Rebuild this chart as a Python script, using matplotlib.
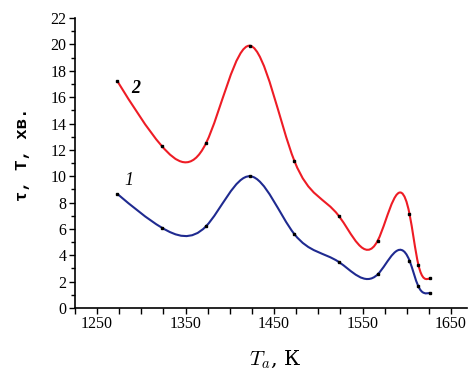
import matplotlib
matplotlib.use("Agg")
import matplotlib.pyplot as plt
import numpy as np
from matplotlib.path import Path
from matplotlib.patches import PathPatch
from matplotlib.ticker import MultipleLocator

ta = [1273, 1323, 1373, 1423, 1473, 1523, 1567, 1603, 1613, 1626]
tau_1 = [8.65, 6.1, 6.2, 10.0, 5.6, 3.5, 2.55, 3.6, 1.65, 1.15]
tau_2 = [17.2, 12.3, 12.5, 19.9, 11.15, 7.0, 5.1, 7.15, 3.3, 2.25]

plt.rcParams['mathtext.fontset'] = 'cm'


def spline_path(x, y):
    # natural cubic spline drawn as bezier segments
    x = np.asarray(x, float)
    y = np.asarray(y, float)
    n = len(x)
    h = np.diff(x)
    A = np.zeros((n, n))
    b = np.zeros(n)
    A[0, 0] = A[-1, -1] = 1
    for i in range(1, n - 1):
        A[i, i - 1] = h[i - 1]
        A[i, i] = 2 * (h[i - 1] + h[i])
        A[i, i + 1] = h[i]
        b[i] = 6 * ((y[i + 1] - y[i]) / h[i] - (y[i] - y[i - 1]) / h[i - 1])
    M = np.linalg.solve(A, b)
    verts = [(x[0], y[0])]
    codes = [Path.MOVETO]
    for i in range(n - 1):
        s = (y[i + 1] - y[i]) / h[i]
        d0 = s - h[i] * (2 * M[i] + M[i + 1]) / 6
        d1 = s + h[i] * (M[i] + 2 * M[i + 1]) / 6
        verts += [(x[i] + h[i] / 3, y[i] + d0 * h[i] / 3),
                  (x[i + 1] - h[i] / 3, y[i + 1] - d1 * h[i] / 3),
                  (x[i + 1], y[i + 1])]
        codes += [Path.CURVE4] * 3
    return Path(verts, codes)


fig = plt.figure(figsize=(4.7, 3.77), dpi=100)
ax = fig.add_axes([0.1596, 0.183, 0.834, 0.769])

for ys, col in [(tau_1, '#1f2a90'), (tau_2, '#ee1c25')]:
    ax.add_patch(PathPatch(spline_path(ta, ys), facecolor='none',
                           edgecolor=col, lw=1.5))
    ax.plot(ta, ys, 's', color='black', ms=1.8, zorder=3)

ax.text(1281, 9.3, '1', fontsize=13, style='italic', family='Liberation Serif')
ax.text(1288, 16.3, '2', fontsize=13, style='italic', weight='bold',
        family='Liberation Serif')

ax.set_xlim(1225, 1668)
ax.set_ylim(0, 22)
ax.xaxis.set_minor_locator(MultipleLocator(25))
ax.yaxis.set_major_locator(MultipleLocator(2))
ax.yaxis.set_minor_locator(MultipleLocator(1))
ax.set_xticks(np.arange(1250, 1651, 100))
ax.tick_params(which='major', length=4, width=1, direction='out')
ax.tick_params(which='minor', length=3, width=1, direction='out')
ax.tick_params(axis='x', which='minor', length=4)
for lab in ax.get_xticklabels() + ax.get_yticklabels():
    lab.set_family('Liberation Serif')
    lab.set_fontsize(11.5)
ax.tick_params(pad=2)

for side in ['top', 'right']:
    ax.spines[side].set_visible(False)
for side in ['left', 'bottom']:
    ax.spines[side].set_linewidth(1.2)

ax.set_xlabel(r'$T_a$, К', fontsize=15, family='DejaVu Serif')
ax.set_ylabel('τ, Т, хв.', fontsize=12.5, family='Liberation Mono',
              weight='bold')
ax.xaxis.set_label_coords(0.51, -0.14)
ax.yaxis.set_label_coords(-0.115, 0.53)

fig.savefig('out.png', dpi=100)
